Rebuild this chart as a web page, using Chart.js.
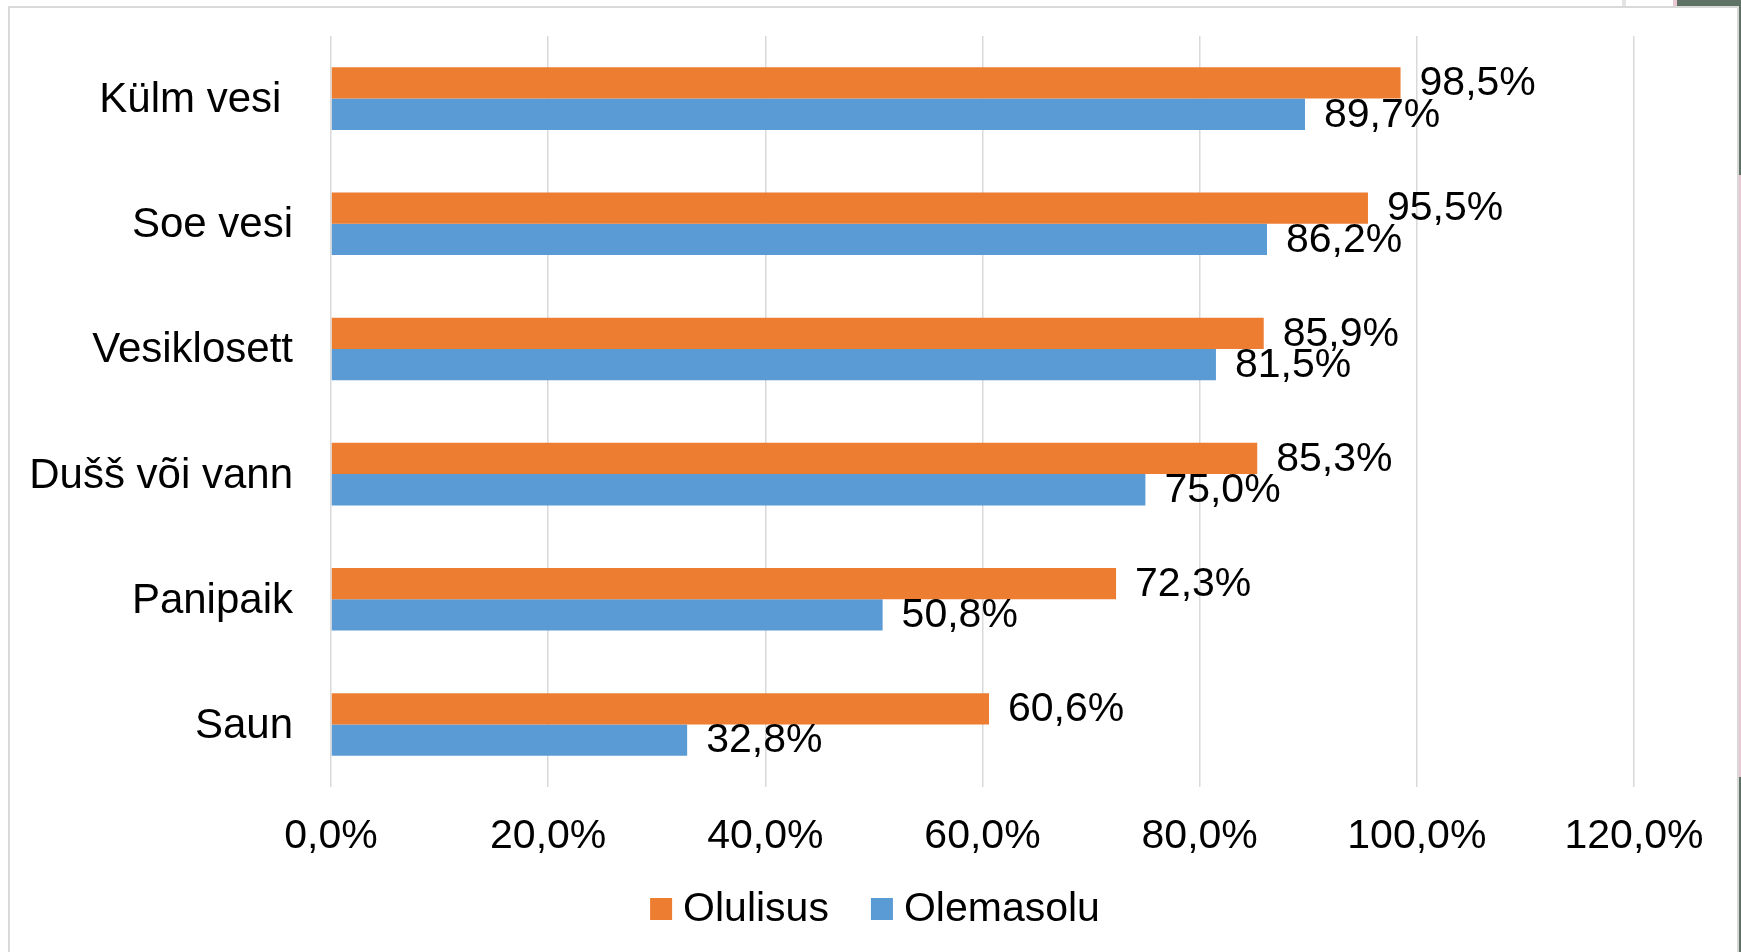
<!DOCTYPE html>
<html lang="et">
<head>
<meta charset="utf-8">
<title>Olulisus ja olemasolu</title>
<script src="https://cdn.jsdelivr.net/npm/chart.js@4.4.1/dist/chart.umd.min.js"></script>
<style>
  html, body { margin: 0; padding: 0; background: #fff; }
  body { width: 1741px; height: 952px; position: relative; overflow: hidden; }
  .frame { position: absolute; left: 8px; top: 6px; width: 1727px; height: 1000px; border: 2px solid #d9d9d9; background: #fff; }
  .edge { position: absolute; }
  #wrap { position: absolute; left: 0; top: 0; width: 1741px; height: 952px; }
</style>
</head>
<body>
<div class="edge" style="left:1622px;top:0;width:4px;height:6px;background:#e3e3e3"></div>
<div class="edge" style="left:1673px;top:0;width:4px;height:6px;background:#e8c8d2"></div>
<div class="edge" style="left:1677px;top:0;width:64px;height:6px;background:#5f7266"></div>
<div class="edge" style="left:1738px;top:0;width:3px;height:175px;background:#5f7266"></div>
<div class="edge" style="left:1738px;top:175px;width:3px;height:602px;background:#e8c8d2"></div>
<div class="edge" style="left:1738px;top:777px;width:3px;height:175px;background:#5f7266"></div>
<div class="frame"></div>
<div id="wrap"><canvas id="chart" width="1741" height="952"></canvas></div>
<script>
const categories = ["Külm vesi ", "Soe vesi", "Vesiklosett", "Dušš või vann", "Panipaik", "Saun"];
const olulisus = [98.5, 95.5, 85.9, 85.3, 72.3, 60.6];
const olemasolu = [89.7, 86.2, 81.5, 75.0, 50.8, 32.8];
const seriesNames = ["Olulisus", "Olemasolu"];
const seriesColors = ["#ED7D31", "#5B9BD5"];
const axisMax = 120;
const axisStep = 20;

const FONT = "'Liberation Sans', Arial, Helvetica, sans-serif";
const fmt = (v) => v.toFixed(1).replace(".", ",") + "%";

// value labels at the end of each bar
const valueLabels = {
  id: "valueLabels",
  afterDatasetsDraw(chart) {
    const c = chart.ctx;
    c.save();
    c.font = "41px " + FONT;
    c.fillStyle = "#000";
    c.textAlign = "left";
    c.textBaseline = "middle";
    chart.data.datasets.forEach((ds, i) => {
      const meta = chart.getDatasetMeta(i);
      meta.data.forEach((bar, j) => {
        c.fillText(fmt(ds.data[j]), bar.x + 19, bar.y + 1);
      });
    });
    c.restore();
  },
};

// Excel-like legend below the axis
const bottomLegend = {
  id: "bottomLegend",
  afterDraw(chart) {
    const c = chart.ctx;
    c.save();
    c.font = "41px " + FONT;
    c.textBaseline = "middle";
    c.textAlign = "left";
    const box = 22, gap = 11, spacing = 42;
    const widths = chart.data.datasets.map((ds) => c.measureText(ds.label).width);
    let total = widths.reduce((a, w) => a + box + gap + w, 0) + spacing * (widths.length - 1);
    let x = 875 - total / 2;
    const y = 909;
    chart.data.datasets.forEach((ds, i) => {
      c.fillStyle = ds.backgroundColor;
      c.fillRect(x, y - box / 2, box, box);
      c.fillStyle = "#000";
      c.fillText(ds.label, x + box + gap, y + 1);
      x += box + gap + widths[i] + spacing;
    });
    c.restore();
  },
};

new Chart(document.getElementById("chart"), {
  type: "bar",
  data: {
    labels: categories,
    datasets: [
      { label: seriesNames[0], data: olulisus, backgroundColor: seriesColors[0] },
      { label: seriesNames[1], data: olemasolu, backgroundColor: seriesColors[1] },
    ],
  },
  options: {
    indexAxis: "y",
    responsive: false,
    animation: false,
    devicePixelRatio: 1,
    categoryPercentage: 0.5,
    barPercentage: 1.0,
    layout: { padding: { left: 0, top: 36, right: 107, bottom: 80 } },
    scales: {
      x: {
        min: 0,
        max: axisMax,
        ticks: {
          stepSize: axisStep,
          padding: 25,
          color: "#000",
          font: { family: FONT, size: 41 },
          callback: (v) => fmt(v),
          maxRotation: 0,
        },
        grid: { color: "#d9d9d9", lineWidth: 1.5, drawTicks: false },
        border: { display: false },
        afterFit: (scale) => { scale.height = 85; },
      },
      y: {
        ticks: {
          padding: 38,
          labelOffset: 2,
          color: "#000",
          font: { family: FONT, size: 42 },
        },
        grid: { display: false, drawTicks: false },
        border: { display: false },
        afterFit: (scale) => {
          scale.width = 331;
          scale.paddingTop = 0;
          scale.paddingBottom = 0;
        },
      },
    },
    plugins: {
      legend: { display: false },
      tooltip: { enabled: false },
    },
  },
  plugins: [valueLabels, bottomLegend],
});
</script>
</body>
</html>
